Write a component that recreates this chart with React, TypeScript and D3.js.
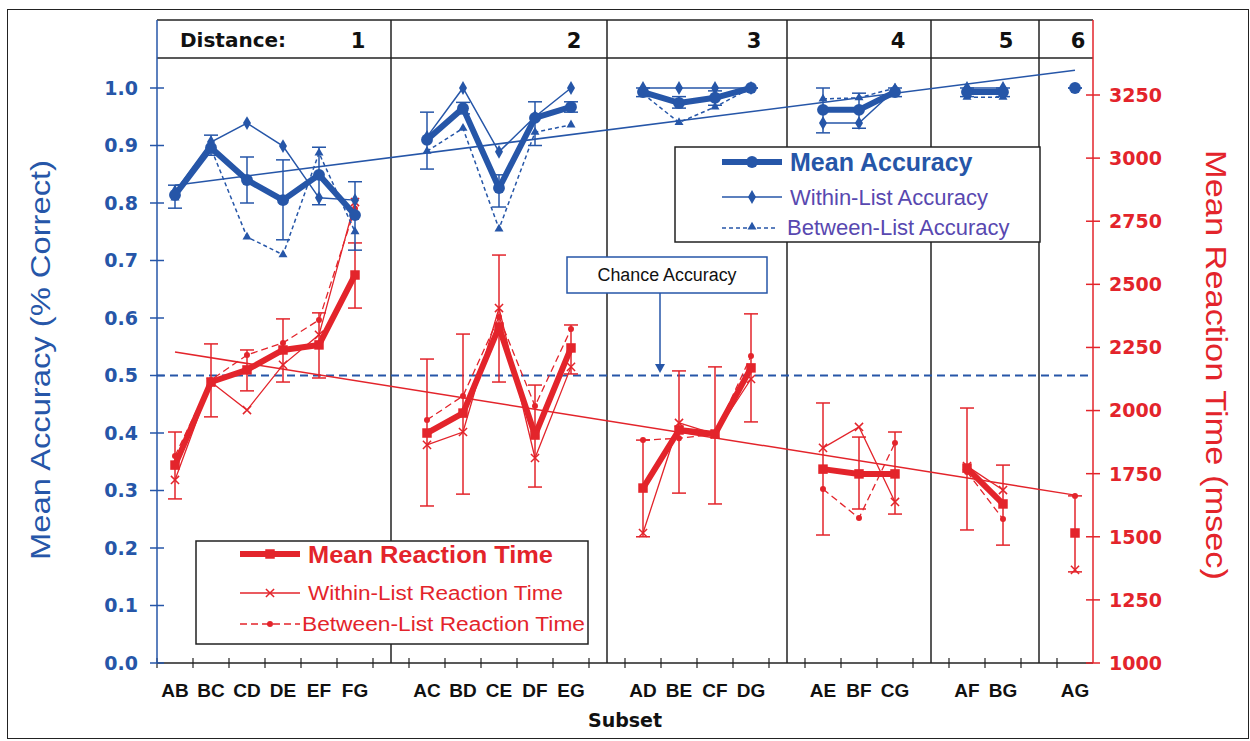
import { scaleBand, scaleLinear, line, symbol, symbolCircle, symbolDiamond, symbolTriangle, symbolSquare, symbolTimes, groups } from 'd3'

// categories in plot order, one distance group after another
let categories = ['AB', 'BC', 'CD', 'DE', 'EF', 'FG', 'AC', 'BD', 'CE', 'DF', 'EG', 'AD', 'BE', 'CF', 'DG', 'AE', 'BF', 'CG', 'AF', 'BG', 'AG']
let distance = [1, 1, 1, 1, 1, 1, 2, 2, 2, 2, 2, 3, 3, 3, 3, 4, 4, 4, 5, 5, 6]
let distanceLabels = ['1', '2', '3', '4', '5', '6']

// accuracy (proportion correct)
let meanAcc = [0.814, 0.896, 0.84, 0.805, 0.849, 0.779, 0.91, 0.965, 0.826, 0.948, 0.967, 0.993, 0.974, 0.983, 1.0, 0.962, 0.962, 0.993, 0.993, 0.993, 1.0]
let accLo = [0.791, 0.883, 0.8, 0.736, 0.797, 0.718, 0.859, 0.955, 0.793, 0.9, 0.958, 0.985, 0.965, 0.97, 1.0, 0.922, 0.93, 0.985, 0.985, 0.985, 1.0]
let accHi = [0.831, 0.918, 0.88, 0.875, 0.897, 0.837, 0.958, 0.975, 0.849, 0.976, 0.976, 1.0, 0.985, 0.995, 1.0, 1.0, 0.991, 1.0, 1.0, 1.0, 1.0]
let withinAcc = [0.82, 0.906, 0.939, 0.899, 0.809, 0.805, 0.915, 1.0, 0.889, 0.95, 1.0, 1.0, 1.0, 1.0, 1.0, 0.939, 0.939, 0.997, 1.0, 1.0, null]
let betweenAcc = [0.809, 0.895, 0.741, 0.71, 0.887, 0.75, 0.89, 0.93, 0.755, 0.923, 0.936, 0.99, 0.94, 0.967, 1.0, 0.981, 0.983, 1.0, 0.984, 0.984, null]

// reaction time (msec)
let meanRT = [1784, 2113, 2161, 2240, 2260, 2537, 1911, 1990, 2331, 1903, 2248, 1693, 1923, 1907, 2169, 1768, 1749, 1749, 1772, 1630, 1515]
let rtLo = [1650, 1975, 2078, 2113, 2129, 2406, 1622, 1669, 2113, 1697, 2145, 1500, 1673, 1630, 1955, 1507, 1610, 1590, 1527, 1467, 1361]
let rtHi = [1915, 2264, 2240, 2363, 2387, 2664, 2204, 2303, 2616, 2101, 2339, 1883, 2157, 2173, 2383, 2030, 1895, 1915, 2010, 1784, 1662]
let withinRT = [1725, 2113, 2002, 2181, 2300, 2826, 1864, 1915, 2406, 1812, 2173, 1515, 1951, 1907, 2125, 1852, 1935, 1638, 1780, 1685, 1369]
let betweenRT = [1820, 2121, 2220, 2268, 2359, 2800, 1963, 2058, 2371, 2018, 2323, 1883, 1890, 1907, 2216, 1689, 1574, 1872, 1757, 1570, 1662]

// linear trends, first and last subset
let accTrend = [0.831, 1.031]
let rtTrend = [2232, 1665]
let chance = 0.5

let accTicks = [0, 0.1, 0.2, 0.3, 0.4, 0.5, 0.6, 0.7, 0.8, 0.9, 1.0]
let rtTicks = [1000, 1250, 1500, 1750, 2000, 2250, 2500, 2750, 3000, 3250]

let blue = '#2656a8'
let red = '#e3242b'
let purple = '#5848b0'

let App = () => {
    let width = 1250
    let height = 741
    let left = 157
    let right = 1093
    let top = 20
    let headerBottom = 58
    let bottom = 663

    // one empty slot between distance groups, the divider sits in its middle
    let slots = []
    categories.forEach((c, i) => {
        if (i > 0 && distance[i] !== distance[i - 1]) slots.push('gap' + distance[i])
        slots.push(c)
    })

    let xScale = scaleBand().domain(slots).range([left, right])
    let bw = xScale.bandwidth()
    let cx = (i) => xScale(categories[i]) + bw / 2

    let yAcc = scaleLinear().domain([0, 1]).range([bottom, 88])
    let yRT = scaleLinear().domain([1000, 3250]).range([bottom, 95])

    let byGroup = groups(categories.map((c, i) => i), i => distance[i])

    let path = (vals, yS) => line().defined(i => vals[i] != null).x(i => cx(i)).y(i => yS(vals[i]))

    let sym = (type, size) => symbol().type(type).size(size)()

    let dividers = slots.filter(s => s.startsWith('gap')).map(s => xScale(s) + bw / 2)

    let seriesPaths = (vals, yS, props) => byGroup.map(([d, idx]) => (
        <path key={d} d={path(vals, yS)(idx)} fill='none' {...props} />
    ))

    let markers = (vals, yS, shape, props) => vals.map((v, i) => v == null ? null : (
        <path key={i} d={shape} transform={`translate(${cx(i)},${yS(v)})`} {...props} />
    ))

    let errBars = (lo, hi, yS, color) => lo.map((l, i) => (
        <g key={i} stroke={color} strokeWidth={1.5}>
            <line x1={cx(i)} x2={cx(i)} y1={yS(l)} y2={yS(hi[i])} />
            <line x1={cx(i) - 7} x2={cx(i) + 7} y1={yS(l)} y2={yS(l)} />
            <line x1={cx(i) - 7} x2={cx(i) + 7} y1={yS(hi[i])} y2={yS(hi[i])} />
        </g>
    ))

    let first = 0
    let last = categories.length - 1

    return (
        <svg width={width} height={height} style={{ position: 'absolute', left: 0, top: 0, background: 'white' }}
            fontFamily='Liberation Sans, Arial, sans-serif'>
            <rect x={7.5} y={9.5} width={1241} height={729} fill='none' stroke='#222' strokeWidth={1} />

            {/* header row with distances */}
            <line x1={left} x2={right} y1={top} y2={top} stroke='#222' strokeWidth={1.5} />
            <line x1={left} x2={right} y1={headerBottom} y2={headerBottom} stroke='#222' strokeWidth={1.5} />
            {dividers.map(d => (
                <line key={d} x1={d} x2={d} y1={top} y2={bottom} stroke='#222' strokeWidth={1.5} />
            ))}
            <text x={180} y={47} fontFamily='DejaVu Sans' fontWeight='bold' fontSize={20} fill='#111'>Distance:</text>
            {distanceLabels.map((lab, k) => {
                let idx = byGroup[k][1]
                return <text key={lab} x={cx(idx[idx.length - 1]) + 3} y={48} textAnchor='middle'
                    fontFamily='DejaVu Sans' fontWeight='bold' fontSize={21} fill='#111'>{lab}</text>
            })}

            {/* x axis */}
            <line x1={left} x2={right} y1={bottom} y2={bottom} stroke='#222' strokeWidth={1.5} />
            {slots.map(s => (
                <line key={s} x1={xScale(s)} x2={xScale(s)} y1={bottom - 5} y2={bottom + 5} stroke='#222' strokeWidth={1.2} />
            ))}
            {categories.map((c, i) => (
                <text key={c} x={cx(i)} y={697} textAnchor='middle' fontWeight='bold' fontSize={19} fill='#111'>{c}</text>
            ))}
            <text x={625} y={727} textAnchor='middle' fontFamily='DejaVu Sans' fontWeight='bold' fontSize={19} fill='#111'>Subset</text>

            {/* left axis */}
            <line x1={left} x2={left} y1={top} y2={bottom} stroke={blue} strokeWidth={1.5} />
            {accTicks.map(t => (
                <g key={t} transform={`translate(0,${yAcc(t)})`}>
                    <line x1={left - 7} x2={left + 7} stroke={blue} strokeWidth={1.5} />
                    <text x={138} dy='0.36em' textAnchor='end' fontFamily='DejaVu Sans' fontWeight='bold' fontSize={19} fill={blue}>{t.toFixed(1)}</text>
                </g>
            ))}
            <text transform='translate(50,360) rotate(-90)' textAnchor='middle' fontSize={28} fill={blue}
                textLength={400} lengthAdjust='spacingAndGlyphs'>Mean Accuracy (% Correct)</text>

            {/* right axis */}
            <line x1={right} x2={right} y1={top} y2={bottom} stroke={red} strokeWidth={1.5} />
            {rtTicks.map(t => (
                <g key={t} transform={`translate(0,${yRT(t)})`}>
                    <line x1={right - 7} x2={right + 7} stroke={red} strokeWidth={1.5} />
                    <text x={1109} dy='0.36em' fontFamily='DejaVu Sans' fontWeight='bold' fontSize={19} fill={red}>{t}</text>
                </g>
            ))}
            <text transform='translate(1206,365) rotate(90)' textAnchor='middle' fontSize={29} fill={red}
                textLength={430} lengthAdjust='spacingAndGlyphs'>Mean Reaction Time (msec)</text>

            {/* chance line and trends */}
            <line x1={left} x2={right} y1={yAcc(chance)} y2={yAcc(chance)} stroke={blue} strokeWidth={2} strokeDasharray='8,5' />
            <line x1={cx(first)} x2={cx(last)} y1={yAcc(accTrend[0])} y2={yAcc(accTrend[1])} stroke={blue} strokeWidth={1.5} />
            <line x1={cx(first)} x2={cx(last)} y1={yRT(rtTrend[0])} y2={yRT(rtTrend[1])} stroke={red} strokeWidth={1.5} />

            {/* reaction time series */}
            {errBars(rtLo, rtHi, yRT, red)}
            {seriesPaths(betweenRT, yRT, { stroke: red, strokeWidth: 1.3, strokeDasharray: '7,4' })}
            {seriesPaths(withinRT, yRT, { stroke: red, strokeWidth: 1.3 })}
            {seriesPaths(meanRT, yRT, { stroke: red, strokeWidth: 6, strokeLinejoin: 'round' })}
            {markers(betweenRT, yRT, sym(symbolCircle, 28), { fill: red })}
            {markers(withinRT, yRT, sym(symbolTimes, 45), { fill: 'none', stroke: red, strokeWidth: 1.5 })}
            {markers(meanRT, yRT, sym(symbolSquare, 90), { fill: red })}

            {/* accuracy series */}
            {errBars(accLo, accHi, yAcc, blue)}
            {seriesPaths(betweenAcc, yAcc, { stroke: blue, strokeWidth: 1.5, strokeDasharray: '4,3' })}
            {seriesPaths(withinAcc, yAcc, { stroke: blue, strokeWidth: 1.5 })}
            {seriesPaths(meanAcc, yAcc, { stroke: blue, strokeWidth: 6, strokeLinejoin: 'round' })}
            {markers(betweenAcc, yAcc, sym(symbolTriangle, 35), { fill: blue })}
            {markers(withinAcc, yAcc, sym(symbolDiamond, 55), { fill: blue })}
            {markers(meanAcc, yAcc, sym(symbolCircle, 110), { fill: blue })}

            {/* chance label */}
            <rect x={567} y={257} width={200} height={36} fill='white' stroke={blue} strokeWidth={1.5} />
            <text x={667} y={281} textAnchor='middle' fontSize={18} fill='#111'
                textLength={139} lengthAdjust='spacingAndGlyphs'>Chance Accuracy</text>
            <line x1={660} x2={660} y1={293} y2={365} stroke={blue} strokeWidth={1.5} />
            <path d='M655,364 L665,364 L660,373 Z' fill={blue} />

            {/* accuracy legend */}
            <rect x={675} y={147} width={365} height={95} fill='white' stroke='#222' strokeWidth={1.5} />
            <line x1={722} x2={782} y1={162} y2={162} stroke={blue} strokeWidth={6} />
            <path d={sym(symbolCircle, 110)} transform='translate(752,162)' fill={blue} />
            <text x={790} y={171} fontWeight='bold' fontSize={25} fill={blue}>Mean Accuracy</text>
            <line x1={722} x2={782} y1={197} y2={197} stroke={blue} strokeWidth={1.5} />
            <path d={sym(symbolDiamond, 55)} transform='translate(752,197)' fill={blue} />
            <text x={790} y={205} fontSize={22} fill={purple}>Within-List Accuracy</text>
            <line x1={722} x2={777} y1={228} y2={228} stroke={blue} strokeWidth={1.5} strokeDasharray='4,3' />
            <path d={sym(symbolTriangle, 35)} transform='translate(752,227)' fill={blue} />
            <text x={787} y={235} fontSize={22} fill={purple}>Between-List Accuracy</text>

            {/* reaction time legend */}
            <rect x={196} y={541} width={392} height={103} fill='white' stroke='#222' strokeWidth={1.5} />
            <line x1={240} x2={300} y1={554} y2={554} stroke={red} strokeWidth={6} />
            <path d={sym(symbolSquare, 90)} transform='translate(270,554)' fill={red} />
            <text x={308} y={563} fontWeight='bold' fontSize={23} fill={red}
                textLength={245} lengthAdjust='spacingAndGlyphs'>Mean Reaction Time</text>
            <line x1={240} x2={300} y1={593} y2={593} stroke={red} strokeWidth={1.3} />
            <path d={sym(symbolTimes, 45)} transform='translate(270,593)' fill='none' stroke={red} strokeWidth={1.5} />
            <text x={308} y={600} fontSize={20} fill={red}
                textLength={255} lengthAdjust='spacingAndGlyphs'>Within-List Reaction Time</text>
            <line x1={240} x2={300} y1={624} y2={624} stroke={red} strokeWidth={1.3} strokeDasharray='7,4' />
            <path d={sym(symbolCircle, 28)} transform='translate(270,624)' fill={red} />
            <text x={302} y={631} fontSize={20} fill={red}
                textLength={283} lengthAdjust='spacingAndGlyphs'>Between-List Reaction Time</text>
        </svg>
    )
}

export default App
